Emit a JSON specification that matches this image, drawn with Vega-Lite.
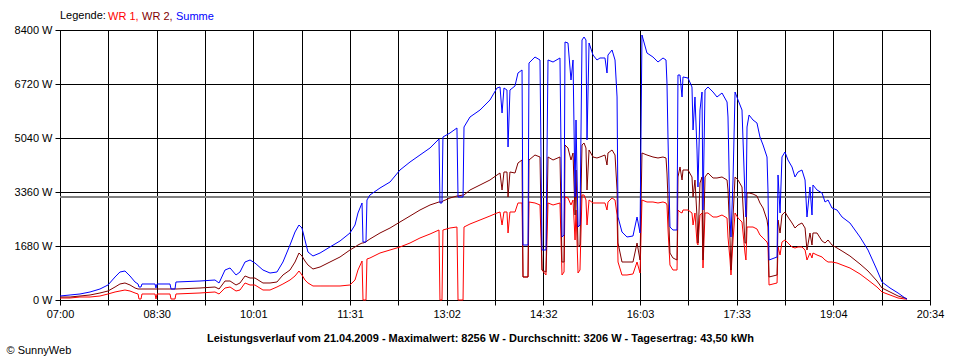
{
"$schema": "https://vega.github.io/schema/vega-lite/v6.json",
"autosize": {"type": "none"},
"width": 870, "height": 270,
"padding": {"left": 60, "top": 30, "right": 30, "bottom": 60},
"background": "white",
"config": {"font": "Liberation Sans", "view": {"stroke": "black", "strokeWidth": 1}},
"data": {"values": [
{"t":420.0,"WR 1":62,"WR 2":93,"Summe":124},
{"t":429.4,"WR 1":62,"WR 2":93,"Summe":156},
{"t":438.7,"WR 1":93,"WR 2":124,"Summe":187},
{"t":448.1,"WR 1":93,"WR 2":156,"Summe":249},
{"t":457.4,"WR 1":124,"WR 2":218,"Summe":342},
{"t":464.9,"WR 1":187,"WR 2":280,"Summe":467},
{"t":471.5,"WR 1":249,"WR 2":404,"Summe":716},
{"t":476.1,"WR 1":280,"WR 2":498,"Summe":871},
{"t":480.8,"WR 1":311,"WR 2":529,"Summe":902},
{"t":485.5,"WR 1":280,"WR 2":467,"Summe":747},
{"t":490.2,"WR 1":218,"WR 2":373,"Summe":560},
{"t":493.0,"WR 1":187,"WR 2":342,"Summe":498},
{"t":493.9,"WR 1":31,"WR 2":342,"Summe":404},
{"t":495.8,"WR 1":31,"WR 2":342,"Summe":404},
{"t":496.7,"WR 1":187,"WR 2":342,"Summe":498},
{"t":508.9,"WR 1":187,"WR 2":342,"Summe":498},
{"t":509.8,"WR 1":31,"WR 2":342,"Summe":373},
{"t":510.8,"WR 1":187,"WR 2":342,"Summe":498},
{"t":522.9,"WR 1":187,"WR 2":342,"Summe":498},
{"t":523.9,"WR 1":31,"WR 2":342,"Summe":342},
{"t":527.6,"WR 1":31,"WR 2":342,"Summe":342},
{"t":528.5,"WR 1":187,"WR 2":342,"Summe":560},
{"t":551.0,"WR 1":218,"WR 2":373,"Summe":591},
{"t":565.0,"WR 1":249,"WR 2":404,"Summe":622},
{"t":568.8,"WR 1":187,"WR 2":342,"Summe":529},
{"t":574.4,"WR 1":373,"WR 2":591,"Summe":933},
{"t":579.1,"WR 1":404,"WR 2":591,"Summe":996},
{"t":584.7,"WR 1":280,"WR 2":467,"Summe":778},
{"t":588.4,"WR 1":311,"WR 2":529,"Summe":871},
{"t":593.1,"WR 1":529,"WR 2":747,"Summe":1182},
{"t":597.8,"WR 1":467,"WR 2":684,"Summe":1244},
{"t":602.4,"WR 1":467,"WR 2":684,"Summe":1151},
{"t":609.9,"WR 1":311,"WR 2":529,"Summe":933},
{"t":616.5,"WR 1":311,"WR 2":529,"Summe":840},
{"t":623.0,"WR 1":404,"WR 2":560,"Summe":871},
{"t":628.6,"WR 1":498,"WR 2":778,"Summe":1182},
{"t":635.2,"WR 1":622,"WR 2":933,"Summe":1711},
{"t":639.9,"WR 1":747,"WR 2":1182,"Summe":2116},
{"t":643.6,"WR 1":902,"WR 2":1462,"Summe":2333},
{"t":646.4,"WR 1":778,"WR 2":1369,"Summe":2240},
{"t":649.2,"WR 1":622,"WR 2":1213,"Summe":1867},
{"t":652.0,"WR 1":529,"WR 2":1089,"Summe":1493},
{"t":656.7,"WR 1":436,"WR 2":964,"Summe":1369},
{"t":663.3,"WR 1":436,"WR 2":1027,"Summe":1462},
{"t":672.6,"WR 1":436,"WR 2":1182,"Summe":1649},
{"t":682.0,"WR 1":436,"WR 2":1338,"Summe":1836},
{"t":691.3,"WR 1":467,"WR 2":1556,"Summe":2084},
{"t":696.0,"WR 1":622,"WR 2":1649,"Summe":2333},
{"t":698.8,"WR 1":933,"WR 2":1711,"Summe":2707},
{"t":702.6,"WR 1":1213,"WR 2":1773,"Summe":3018},
{"t":703.5,"WR 1":0,"WR 2":1773,"Summe":1804},
{"t":706.3,"WR 1":0,"WR 2":1804,"Summe":1804},
{"t":707.2,"WR 1":1276,"WR 2":1836,"Summe":3111},
{"t":710.0,"WR 1":1307,"WR 2":1898,"Summe":3267},
{"t":719.4,"WR 1":1462,"WR 2":2084,"Summe":3484},
{"t":728.8,"WR 1":1556,"WR 2":2240,"Summe":3671},
{"t":738.1,"WR 1":1649,"WR 2":2427,"Summe":4044},
{"t":747.5,"WR 1":1773,"WR 2":2613,"Summe":4293},
{"t":756.8,"WR 1":1929,"WR 2":2800,"Summe":4511},
{"t":766.2,"WR 1":2053,"WR 2":2956,"Summe":4729},
{"t":774.6,"WR 1":2178,"WR 2":3049,"Summe":5009},
{"t":775.5,"WR 1":0,"WR 2":3049,"Summe":3018},
{"t":777.4,"WR 1":0,"WR 2":3049,"Summe":3018},
{"t":778.3,"WR 1":2178,"WR 2":3080,"Summe":5071},
{"t":784.9,"WR 1":2240,"WR 2":3173,"Summe":5196},
{"t":791.4,"WR 1":2271,"WR 2":3236,"Summe":5351},
{"t":792.4,"WR 1":0,"WR 2":3236,"Summe":3204},
{"t":797.1,"WR 1":0,"WR 2":3267,"Summe":3204},
{"t":798.0,"WR 1":2271,"WR 2":3267,"Summe":5382},
{"t":803.6,"WR 1":2364,"WR 2":3422,"Summe":5693},
{"t":813.0,"WR 1":2489,"WR 2":3578,"Summe":5911},
{"t":822.3,"WR 1":2613,"WR 2":3733,"Summe":6222},
{"t":828.9,"WR 1":2707,"WR 2":3889,"Summe":6596},
{"t":831.7,"WR 1":2738,"WR 2":3951,"Summe":6627},
{"t":833.6,"WR 1":2333,"WR 2":3422,"Summe":5818},
{"t":835.4,"WR 1":2738,"WR 2":3982,"Summe":6596},
{"t":838.2,"WR 1":2738,"WR 2":3982,"Summe":6533},
{"t":839.2,"WR 1":2084,"WR 2":3204,"Summe":4760},
{"t":841.0,"WR 1":2738,"WR 2":3982,"Summe":6533},
{"t":845.7,"WR 1":2738,"WR 2":3951,"Summe":6658},
{"t":848.5,"WR 1":3018,"WR 2":4262,"Summe":7062},
{"t":852.3,"WR 1":3018,"WR 2":4356,"Summe":7156},
{"t":853.2,"WR 1":716,"WR 2":716,"Summe":1711},
{"t":857.9,"WR 1":716,"WR 2":716,"Summe":1711},
{"t":858.8,"WR 1":3049,"WR 2":4356,"Summe":7373},
{"t":864.4,"WR 1":3018,"WR 2":4511,"Summe":7560},
{"t":869.1,"WR 1":2956,"WR 2":4449,"Summe":7467},
{"t":871.0,"WR 1":933,"WR 2":933,"Summe":1556},
{"t":874.7,"WR 1":778,"WR 2":871,"Summe":1556},
{"t":876.6,"WR 1":3018,"WR 2":4449,"Summe":7467},
{"t":881.3,"WR 1":2956,"WR 2":4356,"Summe":7404},
{"t":887.8,"WR 1":3018,"WR 2":4449,"Summe":7529},
{"t":889.7,"WR 1":778,"WR 2":1182,"Summe":1960},
{"t":891.6,"WR 1":871,"WR 2":1182,"Summe":2022},
{"t":892.5,"WR 1":3204,"WR 2":4822,"Summe":8027},
{"t":895.3,"WR 1":3173,"WR 2":4729,"Summe":7996},
{"t":898.1,"WR 1":2956,"WR 2":4356,"Summe":6844},
{"t":900.0,"WR 1":3111,"WR 2":4573,"Summe":7467},
{"t":901.9,"WR 1":1867,"WR 2":2644,"Summe":3204},
{"t":902.8,"WR 1":2800,"WR 2":4044,"Summe":5600},
{"t":904.7,"WR 1":840,"WR 2":1649,"Summe":2271},
{"t":906.5,"WR 1":933,"WR 2":1711,"Summe":2333},
{"t":908.4,"WR 1":3267,"WR 2":4822,"Summe":8089},
{"t":910.3,"WR 1":3267,"WR 2":4884,"Summe":8182},
{"t":912.1,"WR 1":3111,"WR 2":4729,"Summe":8089},
{"t":913.1,"WR 1":2333,"WR 2":3422,"Summe":4978},
{"t":915.0,"WR 1":3111,"WR 2":4667,"Summe":7996},
{"t":918.7,"WR 1":3018,"WR 2":4449,"Summe":7622},
{"t":922.4,"WR 1":3018,"WR 2":4418,"Summe":7467},
{"t":925.2,"WR 1":3018,"WR 2":4449,"Summe":7529},
{"t":929.9,"WR 1":3018,"WR 2":4511,"Summe":7529},
{"t":931.8,"WR 1":2800,"WR 2":4200,"Summe":7062},
{"t":932.7,"WR 1":3049,"WR 2":4573,"Summe":7622},
{"t":936.5,"WR 1":3173,"WR 2":4667,"Summe":7778},
{"t":939.3,"WR 1":3111,"WR 2":4511,"Summe":7467},
{"t":941.2,"WR 1":2644,"WR 2":3422,"Summe":6316},
{"t":942.1,"WR 1":1182,"WR 2":1773,"Summe":2582},
{"t":945.8,"WR 1":778,"WR 2":1182,"Summe":2116},
{"t":950.5,"WR 1":778,"WR 2":1182,"Summe":1960},
{"t":956.1,"WR 1":809,"WR 2":1182,"Summe":1991},
{"t":959.9,"WR 1":1182,"WR 2":1773,"Summe":2582},
{"t":962.7,"WR 1":840,"WR 2":1244,"Summe":2084},
{"t":964.5,"WR 1":3111,"WR 2":4573,"Summe":8244},
{"t":969.2,"WR 1":3049,"WR 2":4511,"Summe":7684},
{"t":974.8,"WR 1":3049,"WR 2":4449,"Summe":7560},
{"t":979.5,"WR 1":3018,"WR 2":4418,"Summe":7404},
{"t":984.2,"WR 1":3049,"WR 2":4449,"Summe":7529},
{"t":987.0,"WR 1":3018,"WR 2":4418,"Summe":7467},
{"t":987.9,"WR 1":2956,"WR 2":3951,"Summe":6751},
{"t":988.9,"WR 1":2178,"WR 2":3111,"Summe":4978},
{"t":990.7,"WR 1":1089,"WR 2":1462,"Summe":2271},
{"t":993.5,"WR 1":933,"WR 2":1307,"Summe":2178},
{"t":997.3,"WR 1":933,"WR 2":1244,"Summe":2178},
{"t":998.2,"WR 1":2800,"WR 2":3827,"Summe":7000},
{"t":1000.1,"WR 1":2738,"WR 2":4138,"Summe":7000},
{"t":1002.0,"WR 1":2707,"WR 2":3733,"Summe":6316},
{"t":1002.9,"WR 1":2800,"WR 2":4044,"Summe":6938},
{"t":1007.6,"WR 1":2800,"WR 2":4044,"Summe":6907},
{"t":1011.3,"WR 1":2707,"WR 2":3827,"Summe":6627},
{"t":1012.3,"WR 1":2333,"WR 2":3204,"Summe":5289},
{"t":1014.1,"WR 1":2707,"WR 2":3733,"Summe":6316},
{"t":1016.0,"WR 1":1773,"WR 2":2582,"Summe":4667},
{"t":1016.9,"WR 1":1711,"WR 2":1773,"Summe":3516},
{"t":1018.8,"WR 1":2644,"WR 2":3640,"Summe":5911},
{"t":1020.7,"WR 1":2707,"WR 2":3827,"Summe":6471},
{"t":1021.6,"WR 1":996,"WR 2":1244,"Summe":2800},
{"t":1023.5,"WR 1":2707,"WR 2":3827,"Summe":6533},
{"t":1026.3,"WR 1":2707,"WR 2":3951,"Summe":6627},
{"t":1031.0,"WR 1":2582,"WR 2":3796,"Summe":6471},
{"t":1034.7,"WR 1":2582,"WR 2":3796,"Summe":6316},
{"t":1039.4,"WR 1":2644,"WR 2":3827,"Summe":6440},
{"t":1044.1,"WR 1":2551,"WR 2":3733,"Summe":6160},
{"t":1045.0,"WR 1":1960,"WR 2":3422,"Summe":5693},
{"t":1046.9,"WR 1":1244,"WR 2":1867,"Summe":2582},
{"t":1047.8,"WR 1":778,"WR 2":933,"Summe":1960},
{"t":1049.7,"WR 1":1867,"WR 2":2582,"Summe":3733},
{"t":1051.6,"WR 1":2707,"WR 2":3827,"Summe":6471},
{"t":1054.4,"WR 1":2551,"WR 2":3733,"Summe":6222},
{"t":1058.1,"WR 1":2427,"WR 2":3516,"Summe":5911},
{"t":1060.9,"WR 1":1462,"WR 2":1773,"Summe":3204},
{"t":1061.8,"WR 1":1244,"WR 2":1773,"Summe":2582},
{"t":1062.8,"WR 1":2271,"WR 2":3329,"Summe":5382},
{"t":1064.7,"WR 1":2271,"WR 2":3329,"Summe":5756},
{"t":1068.4,"WR 1":2271,"WR 2":3298,"Summe":5600},
{"t":1072.1,"WR 1":2209,"WR 2":3236,"Summe":5507},
{"t":1074.9,"WR 1":2022,"WR 2":3018,"Summe":5071},
{"t":1077.8,"WR 1":1929,"WR 2":2862,"Summe":4822},
{"t":1081.5,"WR 1":1804,"WR 2":2489,"Summe":4449},
{"t":1082.4,"WR 1":1711,"WR 2":2271,"Summe":3422},
{"t":1083.4,"WR 1":467,"WR 2":716,"Summe":1244},
{"t":1090.9,"WR 1":529,"WR 2":778,"Summe":1338},
{"t":1091.8,"WR 1":1649,"WR 2":2489,"Summe":3889},
{"t":1093.7,"WR 1":1400,"WR 2":2084,"Summe":2707},
{"t":1095.5,"WR 1":1804,"WR 2":2644,"Summe":4449},
{"t":1098.3,"WR 1":1867,"WR 2":2738,"Summe":4604},
{"t":1101.1,"WR 1":1773,"WR 2":2582,"Summe":4356},
{"t":1104.9,"WR 1":1649,"WR 2":2396,"Summe":4138},
{"t":1107.7,"WR 1":1618,"WR 2":2240,"Summe":3827},
{"t":1110.5,"WR 1":1649,"WR 2":2333,"Summe":3982},
{"t":1114.2,"WR 1":1649,"WR 2":2396,"Summe":4044},
{"t":1117.1,"WR 1":1556,"WR 2":2240,"Summe":3733},
{"t":1118.9,"WR 1":1244,"WR 2":1556,"Summe":2582},
{"t":1121.7,"WR 1":1462,"WR 2":2084,"Summe":3516},
{"t":1123.6,"WR 1":1307,"WR 2":1711,"Summe":2644},
{"t":1124.5,"WR 1":1462,"WR 2":2084,"Summe":3578},
{"t":1128.3,"WR 1":1400,"WR 2":2084,"Summe":3422},
{"t":1133.0,"WR 1":1338,"WR 2":1836,"Summe":3329},
{"t":1135.8,"WR 1":1244,"WR 2":1773,"Summe":3049},
{"t":1138.6,"WR 1":1182,"WR 2":1867,"Summe":3111},
{"t":1142.3,"WR 1":1182,"WR 2":1711,"Summe":2862},
{"t":1147.0,"WR 1":1151,"WR 2":1618,"Summe":2800},
{"t":1151.7,"WR 1":1089,"WR 2":1524,"Summe":2582},
{"t":1159.1,"WR 1":996,"WR 2":1369,"Summe":2396},
{"t":1168.5,"WR 1":809,"WR 2":1120,"Summe":1960},
{"t":1176.0,"WR 1":622,"WR 2":902,"Summe":1556},
{"t":1184.4,"WR 1":404,"WR 2":591,"Summe":933},
{"t":1189.1,"WR 1":249,"WR 2":373,"Summe":560},
{"t":1196.6,"WR 1":156,"WR 2":249,"Summe":373},
{"t":1204.1,"WR 1":62,"WR 2":124,"Summe":218},
{"t":1210.6,"WR 1":31,"WR 2":62,"Summe":62},
{"t":1212.5,"WR 1":31,"WR 2":31,"Summe":31}
]},
"encoding": {
  "x": {"field": "t", "type": "quantitative",
    "scale": {"domain": [420, 1234], "nice": false, "zero": false},
    "axis": {
      "values": [420, 465.2222, 510.4444, 555.6667, 600.8889, 646.1111, 691.3333, 736.5556, 781.7778, 827, 872.2222, 917.4444, 962.6667, 1007.8889, 1053.1111, 1098.3333, 1143.5556, 1188.7778, 1234],
      "labelExpr": "round((datum.value-420)/45.2222) % 2 == 0 ? timeFormat(datetime(2009,3,21,0,round(datum.value)), '%H:%M') : ''",
      "grid": true, "gridColor": "black", "gridOpacity": 1, "gridWidth": 1,
      "domain": true, "domainColor": "black", "domainWidth": 1,
      "ticks": true, "tickColor": "black", "tickSize": 5, "tickWidth": 1,
      "labelFont": "Liberation Sans", "labelFontSize": 11, "labelColor": "black", "labelPadding": 3, "labelFlush": false, "labelOverlap": false,
      "title": "Leistungsverlauf vom 21.04.2009 - Maximalwert: 8256 W - Durchschnitt: 3206 W - Tagesertrag: 43,50 kWh",
      "titleFont": "Liberation Sans", "titleFontSize": 11, "titleFontWeight": "bold", "titleColor": "black",
      "titleX": 420, "titleY": 41, "titleAlign": "center", "titleBaseline": "alphabetic", "titleAnchor": null
    }
  },
  "y": {"type": "quantitative",
    "scale": {"domain": [0, 8400], "nice": false, "zero": true},
    "axis": {
      "values": [0, 1680, 3360, 5040, 6720, 8400],
      "labelExpr": "datum.value + ' W'",
      "grid": true, "gridColor": "black", "gridOpacity": 1, "gridWidth": 1,
      "domain": true, "domainColor": "black",
      "ticks": true, "tickColor": "black", "tickSize": 5,
      "labelFont": "Liberation Sans", "labelFontSize": 11, "labelColor": "black", "labelPadding": 3, "labelFlush": false, "labelOverlap": false,
      "title": "© SunnyWeb", "titleAngle": 0, "titleX": -54, "titleY": 323, "titleAlign": "left", "titleBaseline": "alphabetic",
      "titleFont": "Liberation Sans", "titleFontSize": 11, "titleFontWeight": "normal", "titleColor": "black"
    }
  }
},
"layer": [
  {
    "mark": {"type": "rule", "color": "#808080", "strokeWidth": 1},
    "encoding": {"y": {"datum": 3206}, "x": {"datum": 420}, "x2": {"datum": 1234}}
  },
  {
    "transform": [{"fold": ["WR 1", "WR 2", "Summe"], "as": ["serie", "p"]}],
    "mark": {"type": "line", "strokeWidth": 1, "interpolate": "linear"},
    "encoding": {
      "y": {"field": "p", "type": "quantitative"},
      "color": {"field": "serie", "type": "nominal",
        "scale": {"domain": ["WR 1", "WR 2", "Summe"], "range": ["#ff0000", "#800000", "#0000ff"]},
        "legend": {
          "orient": "none", "legendX": 0, "legendY": -19, "direction": "horizontal",
          "title": "Legende:", "titleOrient": "left", "titleFontWeight": "normal", "titleFontSize": 11, "titleFont": "Liberation Sans", "titleColor": "black", "titlePadding": 3,
          "symbolSize": 0, "symbolOpacity": 0, "symbolStrokeWidth": 0, "labelOffset": -12, "columnPadding": 3,
          "labelFont": "Liberation Sans", "labelFontSize": 11,
          "labelExpr": "datum.label == 'Summe' ? datum.label : datum.label + ','",
          "padding": 0,
          "encode": {"labels": {"update": {"fill": {"scale": "color", "field": "value"}}}}
        }
      }
    }
  }
]
}
